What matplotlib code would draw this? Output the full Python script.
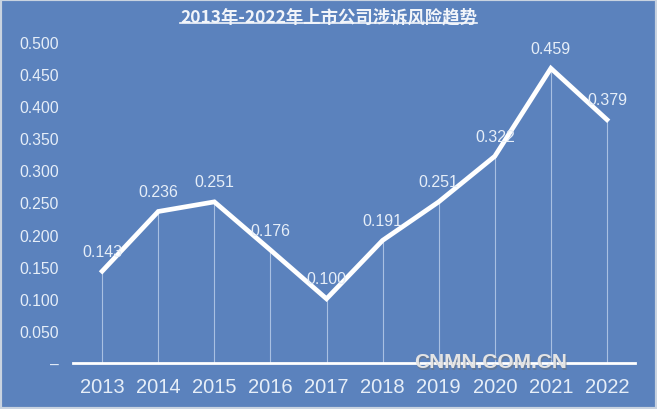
import matplotlib
matplotlib.use("Agg")
import matplotlib.pyplot as plt
from matplotlib.lines import Line2D

years = ["2013", "2014", "2015", "2016", "2017", "2018", "2019", "2020", "2021", "2022"]
risk = [0.143, 0.236, 0.251, 0.176, 0.100, 0.191, 0.251, 0.322, 0.459, 0.379]
yticks = [0.0, 0.05, 0.10, 0.15, 0.20, 0.25, 0.30, 0.35, 0.40, 0.45, 0.50]
ytick_labels = ["–", "0.050", "0.100", "0.150", "0.200", "0.250", "0.300", "0.350", "0.400", "0.450", "0.500"]
title = "2013年-2022年上市公司涉诉风险趋势"

bg = "#5B82BD"
txt = "#E6EEF8"
plt.rcParams['font.family'] = ['Liberation Sans', 'DejaVu Sans']

fig = plt.figure(figsize=(6.57, 4.10), dpi=100, facecolor=bg)
ax = fig.add_axes([73/657, 46/410, (635-73)/657, (364-43)/410])
ax.set_facecolor(bg)

x = list(range(len(years)))
ax.vlines(x, 0, risk, color="#A9C0E2", linewidth=0.8, zorder=1)
ax.plot(x, risk, color="white", linewidth=3.4, solid_joinstyle="miter", zorder=3)
for xi, v in zip(x, risk):
    ax.annotate(f"{v:.3f}", (xi, v), xytext=(0, 9), textcoords="offset points",
                ha="center", va="bottom", color=txt, fontsize=11.5, zorder=4)

ax.set_xlim(-0.52, 9.5)
ax.set_ylim(0, 0.5)
ax.set_xticks(x)
ax.set_xticklabels(years, fontsize=14.5, color=txt)
ax.set_yticks(yticks)
ax.set_yticklabels(ytick_labels, fontsize=11.3, color=txt)
ax.tick_params(axis="both", length=0)
ax.tick_params(axis="y", pad=10)
ax.tick_params(axis="x", pad=10)
for s in ["top", "right", "left"]:
    ax.spines[s].set_visible(False)
ax.spines["bottom"].set_color("white")
ax.spines["bottom"].set_linewidth(2)

t = fig.text(0.5, 1 - 17/410, title, ha="center", va="center", color="#F2F5FA",
             fontsize=12.5, fontweight="bold",
             family=['Noto Sans CJK SC', 'DejaVu Sans'])
fig.canvas.draw()
bb = t.get_window_extent().transformed(fig.transFigure.inverted())
fig.add_artist(Line2D([bb.x0, bb.x1], [bb.y0 + 0.004, bb.y0 + 0.004],
                      transform=fig.transFigure, color="#F2F5FA", linewidth=1.2))

fig.text(491/657 + 0.0015, 1 - 363/410 - 0.004, "CNMN.COM.CN", ha="center", va="center",
         color="#6A7480", fontsize=15, fontweight="bold", alpha=0.6)
fig.text(491/657, 1 - 363/410, "CNMN.COM.CN", ha="center", va="center",
         color="#E4E4E4", fontsize=15, fontweight="bold")

fig.add_artist(plt.Rectangle((0, 0), 1, 1, transform=fig.transFigure, fill=False,
                             edgecolor="#C9D3E0", linewidth=3))

fig.savefig("out.png", dpi=100, facecolor=bg)
